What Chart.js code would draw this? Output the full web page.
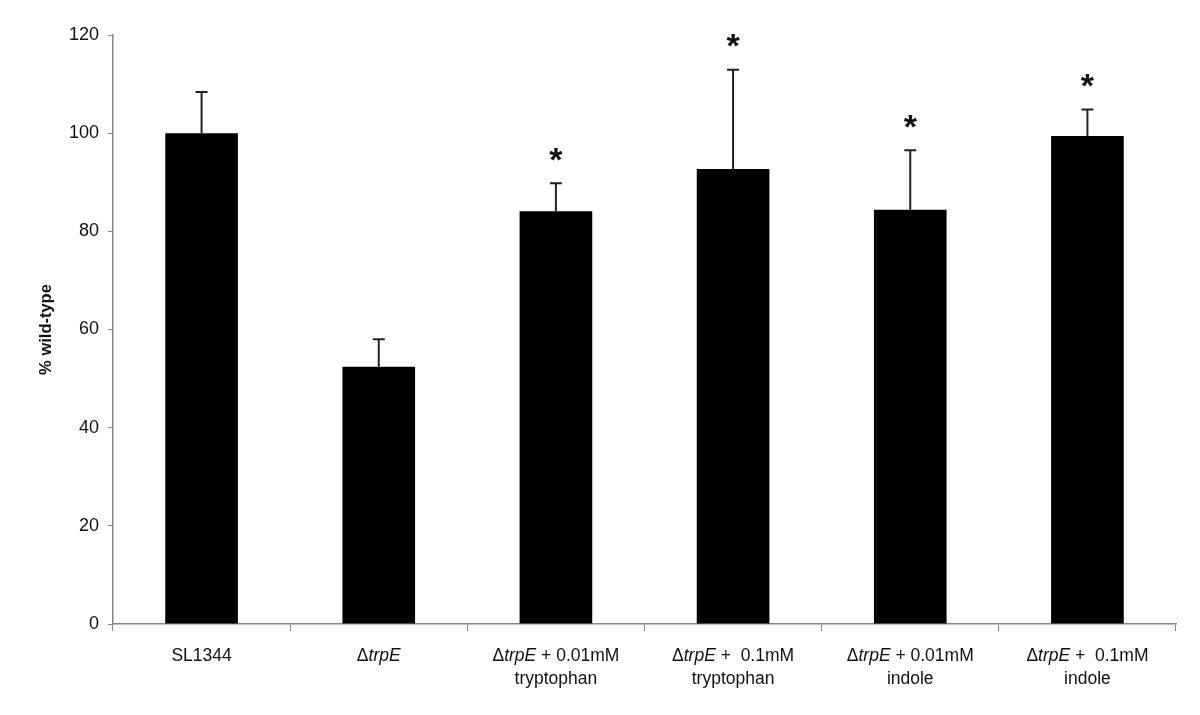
<!DOCTYPE html>
<html>
<head>
<meta charset="utf-8">
<script src="https://cdn.jsdelivr.net/npm/chart.js@4.4.1/dist/chart.umd.min.js"></script>
<style>
  html, body { margin: 0; padding: 0; background: #fff; }
  #wrap { width: 1200px; height: 715px; position: relative; }
</style>
</head>
<body>
<div id="wrap"><canvas id="grafica"></canvas></div>
<script>
const categorias = ["SL1344", "trpE", "trpE + 0.01mM", "trpE +  0.1mM", "trpE + 0.01mM", "trpE +  0.1mM"];
// partes de cada etiqueta: [italica tras la delta, resto, segunda linea]
const etiquetasX = [
  ["", "SL1344", ""],
  ["trpE", "", ""],
  ["trpE", " + 0.01mM", "tryptophan"],
  ["trpE", " +  0.1mM", "tryptophan"],
  ["trpE", " + 0.01mM", "indole"],
  ["trpE", " +  0.1mM", "indole"]
];
const valores = [100, 52.4, 84.1, 92.7, 84.4, 99.4];
const errores = [8.4, 5.6, 5.7, 20.2, 12.1, 5.4];
const significativo = [false, false, true, true, true, true];
const ticksY = [0, 20, 40, 60, 80, 100, 120];

const FUENTE = "Arial, 'Liberation Sans', Helvetica, sans-serif";
const TAM_X = 17.5;

const pluginExtras = {
  id: "extrasFigura",
  afterDatasetsDraw(chart) {
    const { ctx, scales } = chart;
    const meta = chart.getDatasetMeta(0);
    ctx.save();
    // barras de error (solo hacia arriba)
    ctx.strokeStyle = "#222";
    ctx.lineWidth = 2;
    meta.data.forEach((bar, i) => {
      const y0 = scales.y.getPixelForValue(valores[i]);
      const y1 = scales.y.getPixelForValue(valores[i] + errores[i]);
      ctx.beginPath();
      ctx.moveTo(bar.x, y0);
      ctx.lineTo(bar.x, y1);
      ctx.moveTo(bar.x - 6, y1);
      ctx.lineTo(bar.x + 6, y1);
      ctx.stroke();
      if (significativo[i]) {
        ctx.fillStyle = "#111";
        ctx.font = "bold 34px " + FUENTE;
        ctx.textAlign = "center";
        ctx.textBaseline = "alphabetic";
        ctx.fillText("*", bar.x, y1 - 33 + 0.6 * 34);
      }
    });
    ctx.restore();
  },
  afterDraw(chart) {
    const { ctx, scales } = chart;
    ctx.save();
    ctx.fillStyle = "#111";
    // etiquetas del eje x con italica
    etiquetasX.forEach((partes, i) => {
      const x = scales.x.getPixelForValue(i);
      const [ital, resto, linea2] = partes;
      const delta = ital ? "\u0394" : "";
      const normal = TAM_X + "px " + FUENTE;
      const cursiva = "italic " + TAM_X + "px " + FUENTE;
      ctx.font = normal;
      const wDelta = ctx.measureText(delta).width;
      const wResto = ctx.measureText(resto).width;
      ctx.font = cursiva;
      const wItal = ctx.measureText(ital).width;
      let cx = x - (wDelta + wItal + wResto) / 2;
      const y1 = 661;
      ctx.textAlign = "left";
      ctx.textBaseline = "alphabetic";
      ctx.font = normal;
      ctx.fillText(delta, cx, y1);
      cx += wDelta;
      ctx.font = cursiva;
      ctx.fillText(ital, cx, y1);
      cx += wItal;
      ctx.font = normal;
      ctx.fillText(resto, cx, y1);
      if (linea2) {
        ctx.textAlign = "center";
        ctx.fillText(linea2, x, 684);
      }
    });
    // titulo del eje y
    ctx.translate(46, (scales.y.top + scales.y.bottom) / 2);
    ctx.rotate(-Math.PI / 2);
    ctx.font = "bold 16.5px " + FUENTE;
    ctx.textAlign = "center";
    ctx.textBaseline = "middle";
    ctx.fillText("% wild-type", 0, 0);
    ctx.restore();
  }
};

new Chart(document.getElementById("grafica"), {
  type: "bar",
  data: {
    labels: categorias,
    datasets: [{
      data: valores,
      backgroundColor: "#000",
      borderWidth: 0,
      categoryPercentage: 1,
      barPercentage: 0.41
    }]
  },
  options: {
    responsive: true,
    maintainAspectRatio: false,
    animation: false,
    layout: { padding: { top: 35, right: 24, left: 0, bottom: 0 } },
    plugins: { legend: { display: false }, tooltip: { enabled: false } },
    scales: {
      x: {
        afterFit: s => { s.height = 91; },
        ticks: { display: false },
        grid: { offset: true, drawOnChartArea: false, color: "#888", tickLength: 7, lineWidth: 1 },
        border: { color: "#888", width: 1.5 }
      },
      y: {
        min: 0,
        max: 120,
        afterFit: s => { s.width = 113; },
        afterBuildTicks: s => { s.ticks = ticksY.map(v => ({ value: v })); },
        ticks: { color: "#111", font: { size: 18, family: FUENTE }, padding: 9 },
        grid: { drawOnChartArea: false, color: "#888", tickLength: 5 },
        border: { color: "#888", width: 1.5 }
      }
    }
  },
  plugins: [pluginExtras]
});
</script>
</body>
</html>
